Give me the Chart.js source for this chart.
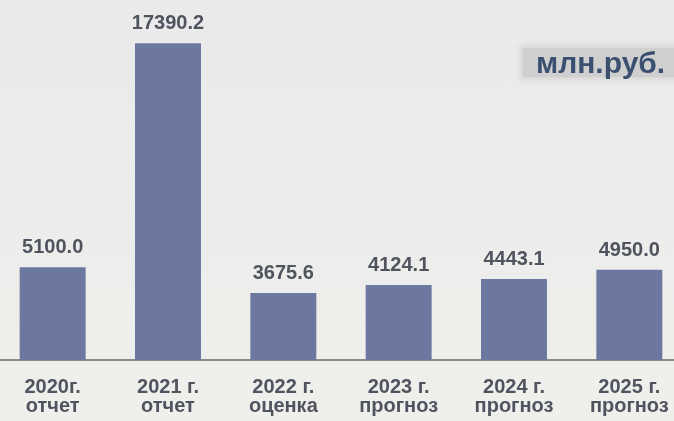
<!DOCTYPE html>
<html lang="ru">
<head>
<meta charset="utf-8">
<title>млн.руб.</title>
<script src="https://cdn.jsdelivr.net/npm/chart.js@4/dist/chart.umd.min.js"></script>
<style>
    html, body {
        margin: 0;
        padding: 0;
        width: 674px;
        height: 421px;
        overflow: hidden;
        background: linear-gradient(#eaeaea, #efefec);
        font-family: "Liberation Sans", Arial, sans-serif;
    }
    .wrap {
        position: absolute;
        left: -5px;
        top: 0;
        width: 692px;
        height: 421px;
    }
    .unit {
        position: absolute;
        left: 523px;
        top: 48px;
        width: 160px;
        height: 29px;
        line-height: 29px;
        padding-left: 13px;
        box-sizing: border-box;
        background: #cfcfcf;
        box-shadow: 0 0 6px 3px #d6d6d6;
        color: #3b5071;
        font-weight: bold;
        font-size: 30px;
    }
</style>
</head>
<body>
<div class="wrap"><canvas id="chart" width="692" height="421"></canvas></div>
<div class="unit">млн.руб.</div>
<script>
    // Data
    const years = ['2020г.', '2021 г.', '2022 г.', '2023 г.', '2024 г.', '2025 г.'];
    const kinds = ['отчет', 'отчет', 'оценка', 'прогноз', 'прогноз', 'прогноз'];
    const values = [5100.0, 17390.2, 3675.6, 4124.1, 4443.1, 4950.0];

    const BAR_COLOR = '#6d78a0';
    const TEXT_COLOR = '#50545f';

    // Value labels above each bar
    const valueLabels = {
        id: 'valueLabels',
        afterDatasetsDraw(chart) {
            const ctx = chart.ctx;
            const meta = chart.getDatasetMeta(0);
            ctx.save();
            ctx.font = 'bold 20px "Liberation Sans", Arial, sans-serif';
            ctx.fillStyle = TEXT_COLOR;
            ctx.textAlign = 'center';
            ctx.textBaseline = 'alphabetic';
            meta.data.forEach((bar, i) => {
                ctx.fillText(values[i].toFixed(1), bar.x, bar.y - 14);
            });
            ctx.restore();
        }
    };

    new Chart(document.getElementById('chart'), {
        type: 'bar',
        data: {
            labels: years.map((y, i) => [y, kinds[i]]),
            datasets: [{
                data: values,
                backgroundColor: BAR_COLOR,
                borderWidth: 0,
                categoryPercentage: 1,
                barPercentage: 0.572
            }]
        },
        options: {
            responsive: false,
            animation: false,
            layout: { padding: { top: 14, left: 0, right: 0, bottom: 0 } },
            plugins: {
                legend: { display: false },
                tooltip: { enabled: false }
            },
            scales: {
                x: {
                    grid: { display: false, drawTicks: false },
                    border: { display: true, color: '#8a8a8a', width: 2 },
                    ticks: {
                        color: TEXT_COLOR,
                        padding: 18,
                        maxRotation: 0,
                        autoSkip: false,
                        font: { family: '"Liberation Sans", Arial, sans-serif', size: 20, weight: 'bold', lineHeight: 0.95 }
                    },
                    afterFit: axis => { axis.height = 61; }
                },
                y: {
                    display: false,
                    min: 0,
                    max: 19000
                }
            }
        },
        plugins: [valueLabels]
    });
</script>
</body>
</html>
